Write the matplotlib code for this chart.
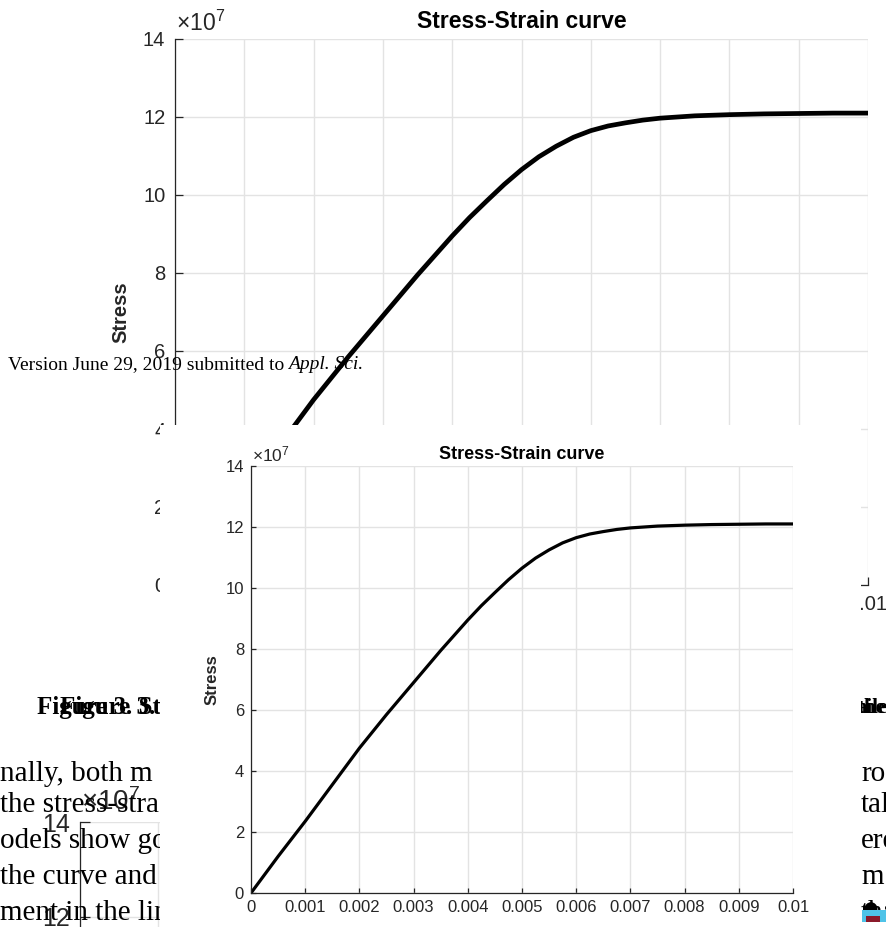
import matplotlib
matplotlib.use('Agg')
import matplotlib.pyplot as plt
from matplotlib.patches import Rectangle, Circle

# stress-strain curve (stress in units of 1e7)
strain = [0, 0.0005, 0.001, 0.0015, 0.002, 0.0025, 0.003, 0.0035, 0.004,
          0.00425, 0.0045, 0.00475, 0.005, 0.00525, 0.0055, 0.00575, 0.006,
          0.00625, 0.0065, 0.00675, 0.007, 0.00725, 0.0075, 0.008,
          0.0085, 0.009, 0.0095, 0.01]
stress = [0, 1.2, 2.35, 3.55, 4.75, 5.85, 6.9, 7.95, 8.95,
          9.42, 9.85, 10.27, 10.65, 10.98, 11.25, 11.48, 11.65,
          11.77, 11.85, 11.92, 11.97, 12.0, 12.03, 12.06,
          12.08, 12.09, 12.1, 12.1]

x_ticks = [0, 0.001, 0.002, 0.003, 0.004, 0.005, 0.006, 0.007, 0.008, 0.009, 0.01]
x_labels = ['0', '0.001', '0.002', '0.003', '0.004', '0.005', '0.006',
            '0.007', '0.008', '0.009', '0.01']
y_ticks = [0, 2, 4, 6, 8, 10, 12, 14]

# bits of the page text that show around the charts
para_left = ['nally, both m', 'the stress-stra', 'odels show go',
             'the curve and', 'ment in the lin']
para_right = ['ro', 'tal', 'ere', 'm', 'tha']

W, H = 886, 927
plt.rcParams['font.family'] = ['Liberation Sans', 'DejaVu Sans']
plt.rcParams['mathtext.default'] = 'regular'
DARK = '#262626'
GRID = '#e3e3e3'


def box(x0, y0, x1, y1):
    # pixel box, origin top-left -> figure fraction rect
    return [x0 / W, 1 - y1 / H, (x1 - x0) / W, (y1 - y0) / H]


def style(ax, fs, ticklen, pad):
    ax.set_xlim(0, 0.01)
    ax.set_ylim(0, 14)
    ax.set_xticks(x_ticks)
    ax.set_xticklabels(x_labels)
    ax.set_yticks(y_ticks)
    for s in ['top', 'right']:
        ax.spines[s].set_visible(False)
    for s in ['left', 'bottom']:
        ax.spines[s].set_color(DARK)
        ax.spines[s].set_linewidth(0.9)
    ax.grid(True, color=GRID, lw=1.0)
    ax.set_axisbelow(True)
    ax.tick_params(direction='in', length=ticklen, width=0.9, colors=DARK,
                   labelsize=fs, pad=pad)


fig = plt.figure(figsize=(W / 100, H / 100), dpi=100)

# big chart in the background
ax1 = fig.add_axes(box(175, 39, 868, 585))
style(ax1, 14.5, 5.5, 7)
ax1.plot(strain, stress, color='black', lw=3.4, solid_joinstyle='round')
ax1.set_title('Stress-Strain curve', fontsize=16.5, fontweight='bold', pad=8)
ax1.set_ylabel('Stress', fontsize=14.5, fontweight='bold', color=DARK)
ax1.yaxis.set_label_coords(-0.064, 0.5)
ax1.annotate(r'$\times10^{7}$', xy=(0, 1), xycoords='axes fraction',
             xytext=(1, 2), textcoords='offset points', fontsize=16.5,
             color=DARK, ha='left', va='bottom')

# third chart peeking out on the left
ax3 = fig.add_axes(box(80, 822, 860, 822 + 665))
style(ax3, 18, 7, 7)
ax3.tick_params(axis='x', labelbottom=False)
ax3.annotate(r'$\times10^{7}$', xy=(0, 1), xycoords='axes fraction',
             xytext=(1, 4), textcoords='offset points', fontsize=20,
             color=DARK, ha='left', va='bottom')

# page text
fig.text(8 / W, 1 - 369 / H, 'Version June 29, 2019 submitted to',
         family='Liberation Serif', fontsize=14, ha='left', va='baseline')
fig.text(288 / W, 1 - 369 / H, 'Appl. Sci.', family='Liberation Serif',
         style='italic', fontsize=14, ha='left', va='baseline')

fig.text(37 / W, 1 - 714 / H, 'Figure 3. Stress', family='Liberation Serif',
         fontweight='bold', fontsize=18, ha='left', va='baseline', zorder=0.5)
fig.text(60 / W, 1 - 714 / H, 'Figure 3. Stress', family='Liberation Serif',
         fontweight='bold', fontsize=18, ha='left', va='baseline', zorder=0.5)
fig.text(856 / W, 1 - 713 / H, 'aile', family='Liberation Serif',
         fontweight='bold', fontsize=15, ha='left', va='baseline', zorder=0.5)
fig.text(858 / W, 1 - 713 / H, 'the', family='Liberation Serif',
         fontweight='bold', fontsize=15, ha='left', va='baseline', zorder=0.5)

baselines = [781, 812, 848, 884, 920]
for txt, yb in zip(para_left, baselines):
    fig.text(0, 1 - yb / H, txt, family='Liberation Serif', fontsize=21,
             ha='left', va='baseline', zorder=0.5)
for txt, yb in zip(para_right, baselines):
    fig.text(861 / W, 1 - yb / H, txt, family='Liberation Serif', fontsize=21,
             ha='left', va='baseline', zorder=0.5)

# white sheet that hides the lower part of the big chart
fig.add_artist(Rectangle((160 / W, 0), 701 / W, 502 / H,
                         transform=fig.transFigure, facecolor='white',
                         edgecolor='none', zorder=1))

# small icon at the bottom right
fig.add_artist(Rectangle((862 / W, 1 - 922 / H), 24 / W, 12 / H,
                         transform=fig.transFigure, facecolor='#4fc3e8',
                         edgecolor='none', zorder=1.2))
fig.add_artist(Rectangle((866 / W, 1 - 922 / H), 14 / W, 6 / H,
                         transform=fig.transFigure, facecolor='#8b1a2b',
                         edgecolor='none', zorder=1.3))
fig.add_artist(Circle((871 / W, 1 - 909 / H), 6.5 / W,
                      transform=fig.transFigure, facecolor='black',
                      edgecolor='none', zorder=1.1))

# small chart on top
ax2 = fig.add_axes(box(251, 466, 793, 893))
ax2.set_zorder(2)
style(ax2, 12, 3.5, 5)
ax2.plot(strain, stress, color='black', lw=2.3, solid_joinstyle='round')
ax2.set_title('Stress-Strain curve', fontsize=13, fontweight='bold', pad=5)
ax2.set_ylabel('Stress', fontsize=12, fontweight='bold', color=DARK)
ax2.yaxis.set_label_coords(-0.058, 0.5)
ax2.annotate(r'$\times10^{7}$', xy=(0, 1), xycoords='axes fraction',
             xytext=(1, 1), textcoords='offset points', fontsize=12.5,
             color=DARK, ha='left', va='bottom')

fig.savefig('out.png', dpi=100)
